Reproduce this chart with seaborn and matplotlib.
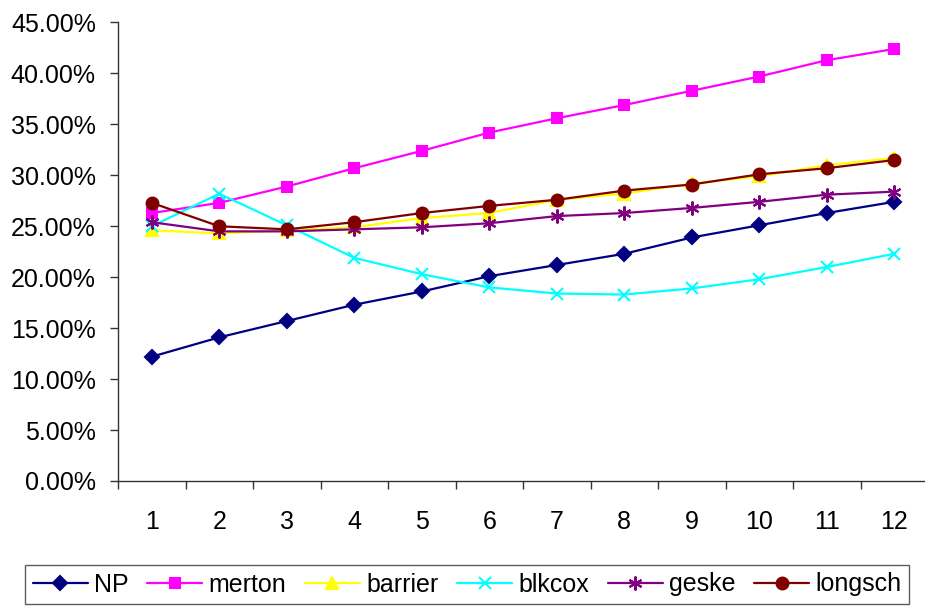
import numpy as np
import pandas as pd
import matplotlib.pyplot as plt
import seaborn as sns
from matplotlib.ticker import PercentFormatter, FixedLocator

# Data (percent)
periods = list(range(1, 13))
np_vals      = [12.2, 14.1, 15.7, 17.3, 18.6, 20.1, 21.2, 22.3, 23.9, 25.1, 26.3, 27.4]
merton_vals  = [26.3, 27.3, 28.9, 30.7, 32.4, 34.2, 35.6, 36.9, 38.3, 39.7, 41.3, 42.4]
barrier_vals = [24.6, 24.3, 24.6, 24.9, 25.8, 26.3, 27.6, 28.2, 29.2, 29.9, 31.0, 31.7]
blkcox_vals  = [25.0, 28.2, 25.1, 21.9, 20.3, 19.0, 18.4, 18.3, 18.9, 19.8, 21.0, 22.3]
geske_vals   = [25.4, 24.5, 24.5, 24.7, 24.9, 25.3, 26.0, 26.3, 26.8, 27.4, 28.1, 28.4]
longsch_vals = [27.3, 25.0, 24.7, 25.4, 26.3, 27.0, 27.6, 28.5, 29.1, 30.1, 30.7, 31.5]

series = ['NP', 'merton', 'barrier', 'blkcox', 'geske', 'longsch']
values = [np_vals, merton_vals, barrier_vals, blkcox_vals, geske_vals, longsch_vals]
colors = ['#000080', '#FF00FF', '#FFFF00', '#00FFFF', '#800080', '#800000']
markers = ['D', 's', '^', 'x', (6, 2, 0), 'o']
msizes = [7.5, 7.5, 8, 9, 10, 8.5]

sns.set_style('white')
plt.rcParams['font.family'] = ['Liberation Sans', 'DejaVu Sans']
plt.rcParams['text.color'] = 'black'
plt.rcParams['xtick.color'] = 'black'
plt.rcParams['ytick.color'] = 'black'

fig = plt.figure(figsize=(9.25, 6.06), dpi=100)
ax = fig.add_axes([118 / 925, 1 - 481 / 606, 810 / 925, (481 - 22.5) / 606])

for name, vals, col, mk, ms in zip(series, values, colors, markers, msizes):
    d = pd.DataFrame({'period': periods, 'value': vals})
    sns.lineplot(data=d, x='period', y='value', color=col, marker=mk, markersize=ms,
                 markeredgecolor=col, markeredgewidth=1.5, linewidth=1.6, label=name, ax=ax)

ax.set_xlim(0.5, 12.5)
ax.set_ylim(0, 45)
ax.set_yticks(np.arange(0, 46, 5))
ax.yaxis.set_major_formatter(PercentFormatter(decimals=2))
ax.set_xticks(periods)
ax.xaxis.set_minor_locator(FixedLocator(np.arange(0.5, 13, 1)))
ax.tick_params(axis='x', which='major', bottom=True, length=0, pad=21, labelsize=18)
ax.tick_params(axis='x', which='minor', bottom=True, length=6, width=1, direction='out', color='#333333')
ax.tick_params(axis='y', left=True, length=6, width=1, direction='out', color='#333333', pad=10, labelsize=18)
ax.set_xlabel('')
ax.set_ylabel('')

for side in ['top', 'right']:
    ax.spines[side].set_visible(False)
for side in ['left', 'bottom']:
    ax.spines[side].set_color('#333333')
    ax.spines[side].set_linewidth(1)

handles, labels = ax.get_legend_handles_labels()
ax.get_legend().remove()
leg = fig.legend(handles, labels, loc='upper center', bbox_to_anchor=(0.505, 1 - 565 / 606),
                 ncol=6, fontsize=18, frameon=True, fancybox=False, handlelength=2.2,
                 columnspacing=0.75, handletextpad=0.25, borderpad=0.3, borderaxespad=0)
leg.get_frame().set_edgecolor('#333333')
leg.get_frame().set_linewidth(1)

fig.savefig('out.png', dpi=100)
